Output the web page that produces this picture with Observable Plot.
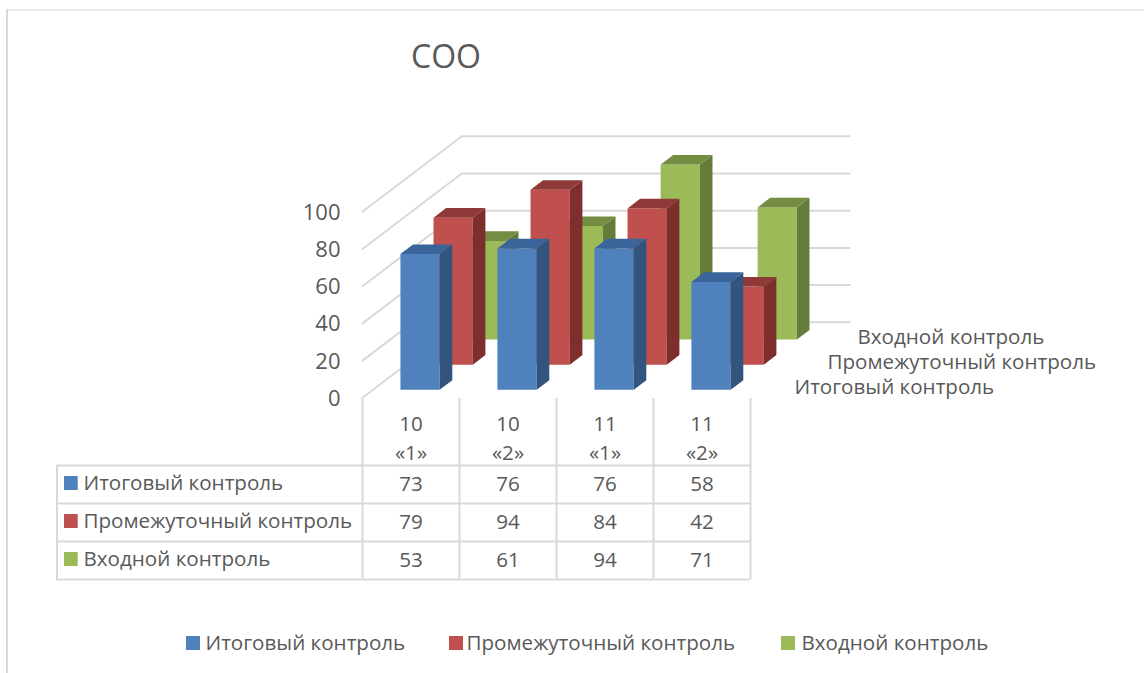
<!DOCTYPE html>
<html>
<head>
<meta charset="utf-8">
<script src="https://cdn.jsdelivr.net/npm/d3@7"></script>
<script src="https://cdn.jsdelivr.net/npm/@observablehq/plot@0.6"></script>
<style>
html,body{margin:0;padding:0;background:#fff}
svg{display:block}
</style>
</head>
<body>
<div id="chart"></div>
<script>
const chartTitle = "СОО";
const categories = ["10\n«1»", "10\n«2»", "11\n«1»", "11\n«2»"];
const seriesNames = ["Итоговый контроль", "Промежуточный контроль", "Входной контроль"];
const finalValues = [73, 76, 76, 58];
const midValues = [79, 94, 84, 42];
const entryValues = [53, 61, 94, 71];
const seriesValues = [finalValues, midValues, entryValues];
const valueTicks = [0, 20, 40, 60, 80, 100];
const frontColors = ["#4f81bd", "#c0504d", "#9bbb59"];
const sideColors = ["#31557f", "#7d2f2e", "#667c3a"];
const topColors = ["#3a659a", "#8f3a38", "#748d43"];

const gridColor = "#d9d9d9", textColor = "#595959", fontSize = 20.6;

// pixel helpers: the frame keeps one data space, x = category slots, y = value
const X0 = 362, SLOT = 97, Y0 = 397.3, UNIT = 1.86;
const xAt = p => (p - X0) / SLOT;
const yAt = p => (Y0 - p) / UNIT;

// oblique projection of the 3D chart into the flat data space
const DX = 33.1 / SLOT, DY = 25.17 / UNIT;
const project = (c, v, d) => ({x: c + d * DX, y: v + d * DY});

// walls
const grid = valueTicks.flatMap(v => [
  {tick: v, ...project(0, v, 0)},
  {tick: v, ...project(0, v, 3)},
  {tick: v, ...project(4, v, 3)}
]);

// bar faces, painted back to front
const faces = [];
let faceId = 0;
function addFace(color, pts) {
  const id = faceId++;
  pts.forEach(([c, v, d]) => faces.push({face: id, color, ...project(c, v, d)}));
}
for (let s = seriesNames.length - 1; s >= 0; s--) {
  seriesValues[s].forEach((v, i) => {
    const c0 = i + 0.2825, c1 = c0 + 0.405, d0 = s + 0.318, d1 = d0 + 0.38;
    addFace(frontColors[s], [[c0,0,d0],[c1,0,d0],[c1,v,d0],[c0,v,d0]]);
    addFace(sideColors[s], [[c1,0,d0],[c1,0,d1],[c1,v,d1],[c1,v,d0]]);
    addFace(topColors[s], [[c0,v,d0],[c1,v,d0],[c1,v,d1],[c0,v,d1]]);
  });
}

// table layout
const tableLines = [465, 503, 541, 579];
const rowCentres = [484, 522, 560];
const cells = seriesValues.flatMap((vals, r) =>
  vals.map((v, c) => ({v, c, r})));
const textOpts = {fill: textColor, fontSize, stroke: "none"};

const legendItems = [
  {name: seriesNames[0], swatch: 186, text: 205},
  {name: seriesNames[1], swatch: 449, text: 466},
  {name: seriesNames[2], swatch: 781, text: 801}
];
const depthLabels = [
  {name: seriesNames[2], x: 857, y: 337},
  {name: seriesNames[1], x: 827, y: 362},
  {name: seriesNames[0], x: 794, y: 387}
];

const plot = Plot.plot({
  width: 1144,
  height: 673,
  marginLeft: 362,
  marginTop: 0,
  marginRight: 0,
  marginBottom: 0,
  style: {fontFamily: "'Open Sans', sans-serif", background: "#fff", overflow: "visible"},
  x: {domain: [0, 4], range: [X0, X0 + 4 * SLOT], axis: null},
  y: {domain: [0, 100], range: [Y0, Y0 - 100 * UNIT], axis: null},
  color: {type: "identity"},
  marks: [
    // outer chart border
    Plot.ruleX([xAt(6.5)], {y1: yAt(9), y2: yAt(673), stroke: gridColor, strokeWidth: 2}),
    Plot.ruleY([yAt(9.5)], {x1: xAt(6), x2: xAt(1144), stroke: gridColor, strokeWidth: 1}),

    // title
    Plot.text([chartTitle], {x: xAt(445.5), y: yAt(57), text: d => d, fill: textColor, fontSize: 32}),

    // value axis
    Plot.axisY({anchor: "left", ticks: valueTicks, tickSize: 0, tickPadding: 22, fontSize: 22, fill: textColor, label: null, dy: 1}),

    // walls
    Plot.line(grid, {x: "x", y: "y", z: "tick", stroke: gridColor, strokeWidth: 2, curve: "linear"}),

    // bars
    Plot.line(faces, {x: "x", y: "y", z: "face", fill: "color", stroke: "none", curve: "linear"}),

    // depth-axis labels
    Plot.text(depthLabels, {x: d => xAt(d.x), y: d => yAt(d.y), text: "name", textAnchor: "start", ...textOpts}),

    // data table: rules
    Plot.ruleX(d3.range(categories.length + 1), {x: d => d, y1: yAt(398), y2: yAt(tableLines[3]), stroke: gridColor, strokeWidth: 2}),
    Plot.ruleX([xAt(56.5)], {y1: yAt(tableLines[0]), y2: yAt(tableLines[3]), stroke: gridColor, strokeWidth: 2}),
    Plot.ruleY(tableLines, {y: d => yAt(d), x1: xAt(56), x2: 4, stroke: gridColor, strokeWidth: 2}),

    // data table: header and cells
    Plot.text(categories, {x: (d, i) => i + 0.5, y: yAt(436), text: d => d, lineHeight: 1.41, ...textOpts}),
    Plot.text(cells, {x: d => d.c + 0.5, y: d => yAt(rowCentres[d.r]), text: "v", ...textOpts}),

    // data table: row keys
    Plot.rect(seriesNames, {
      x1: xAt(64), x2: xAt(77.7),
      y1: (d, i) => yAt(rowCentres[i] - 8), y2: (d, i) => yAt(rowCentres[i] + 6),
      fill: (d, i) => frontColors[i]
    }),
    Plot.text(seriesNames, {x: xAt(83), y: (d, i) => yAt(rowCentres[i] - 1), text: d => d, textAnchor: "start", ...textOpts}),

    // bottom legend
    Plot.rect(legendItems, {
      x1: d => xAt(d.swatch), x2: d => xAt(d.swatch + 14),
      y1: yAt(636), y2: yAt(650),
      fill: (d, i) => frontColors[i]
    }),
    Plot.text(legendItems, {x: d => xAt(d.text), y: yAt(643), text: "name", textAnchor: "start", ...textOpts})
  ]
});
document.getElementById("chart").append(plot);
</script>
</body>
</html>
